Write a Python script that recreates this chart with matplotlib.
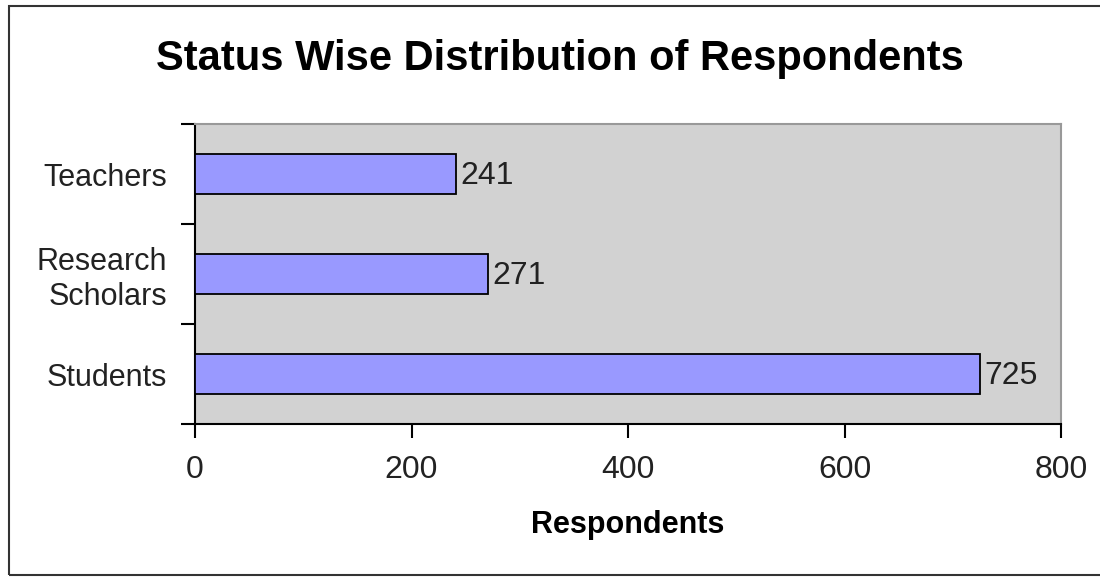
import matplotlib.pyplot as plt
from matplotlib.patches import Rectangle

plt.rcParams['font.family'] = ['Liberation Sans', 'DejaVu Sans']

categories = ['Students', 'Research\nScholars', 'Teachers']
respondents = [725, 271, 241]
xticks = [0, 200, 400, 600, 800]

fig = plt.figure(figsize=(11, 5.77), dpi=100)
ax = fig.add_axes([195/1100, 1 - 424/577, (1061 - 195)/1100, 300/577])

# outer chart border
fig.patches.append(Rectangle((9/1100, 2/577), 1.2, 569/577, transform=fig.transFigure,
                             fill=False, edgecolor='#333333', lw=1.5))

ax.set_facecolor('#d2d2d2')
y = range(len(categories))
ax.barh(y, respondents, height=0.4, color='#9999ff', edgecolor='black', lw=1.3, zorder=3)

for i, v in enumerate(respondents):
    ax.text(v + 4, i - 0.02, str(v), va='center', ha='left', fontsize=23, color='#222222')

ax.set_xlim(0, 800)
ax.set_ylim(-0.5, 2.5)
ax.set_xticks(xticks)
ax.set_xticklabels([str(t) for t in xticks], fontsize=23, color='#222222')
ax.set_yticks(y)
ax.set_yticklabels(categories, fontsize=22, color='#222222', linespacing=1.2,
                   multialignment='right')
ax.tick_params(axis='y', length=0, pad=20)
ax.tick_params(axis='x', length=10, width=1.5, pad=12)
ax.set_yticks([-0.5, 0.5, 1.5, 2.5], minor=True)
ax.tick_params(axis='y', which='minor', length=10, width=1.5)

for s in ['left', 'bottom']:
    ax.spines[s].set_color('black')
    ax.spines[s].set_linewidth(1.5)
for s in ['top', 'right']:
    ax.spines[s].set_color('#999999')
    ax.spines[s].set_linewidth(1.5)

ax.set_xlabel('Respondents', fontsize=22, fontweight='bold', labelpad=18)
fig.text(560/1100, 1 - 59/577, 'Status Wise Distribution of Respondents',
         ha='center', va='center', fontsize=30, fontweight='bold')

fig.savefig('out.png', dpi=100, facecolor='white')
